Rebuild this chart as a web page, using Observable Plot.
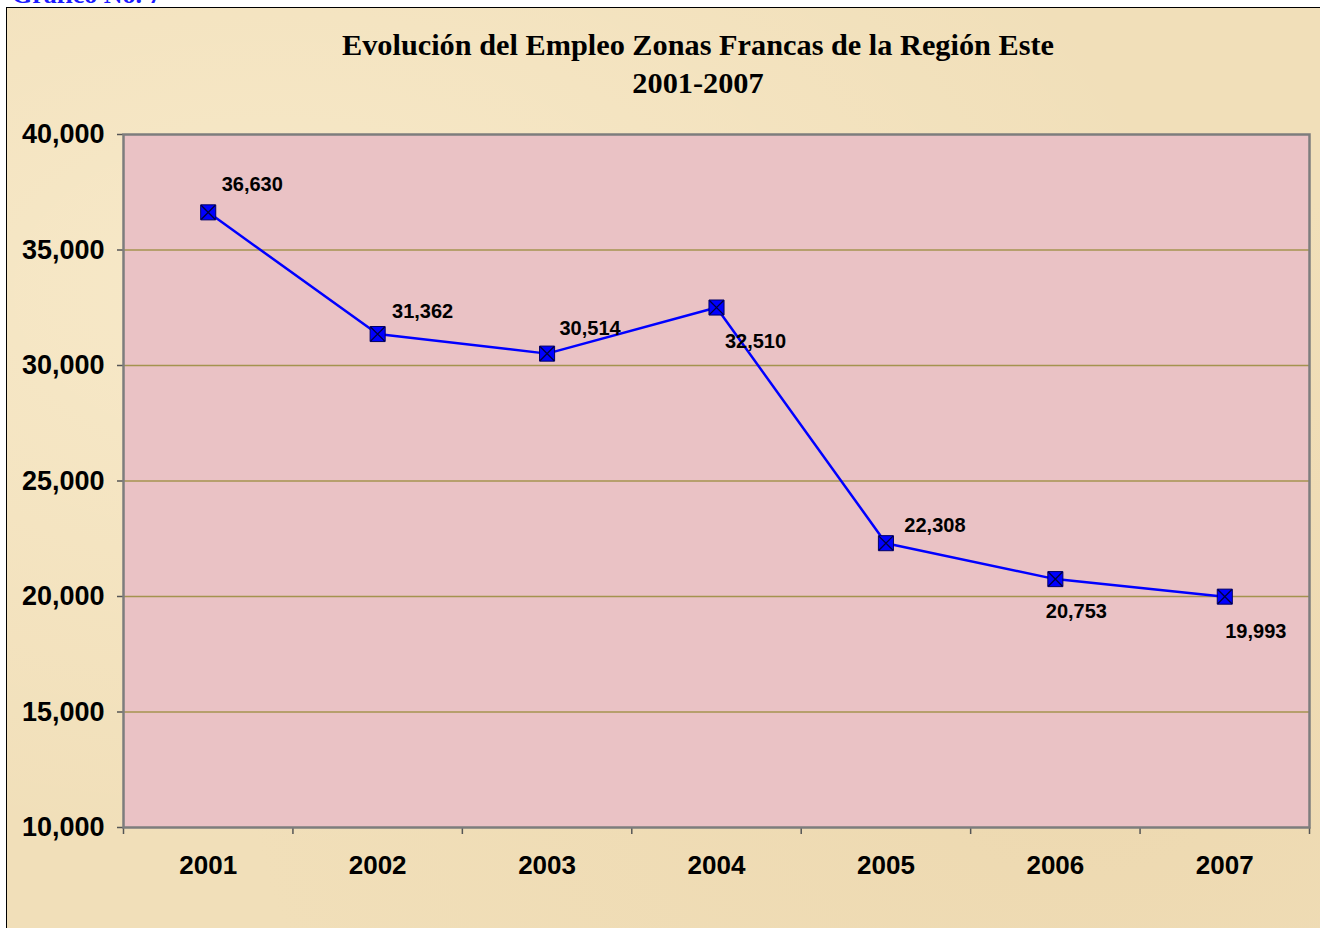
<!DOCTYPE html>
<html>
<head>
<meta charset="utf-8">
<script src="https://cdn.jsdelivr.net/npm/d3@7"></script>
<script src="https://cdn.jsdelivr.net/npm/@observablehq/plot@0.6"></script>
<style>
  html, body { margin: 0; padding: 0; background: #ffffff; overflow: hidden; }
  #page { position: relative; width: 1320px; height: 928px; overflow: hidden; background: #ffffff; }
  #caption { position: absolute; left: 12px; top: -20px; font: bold 26px "Liberation Serif", "Times New Roman", serif; color: #1a1aff; line-height: 30px; }
  #frame { position: absolute; left: 6px; top: 7px; width: 1340px; height: 940px; border: 1px solid #000;
    background:
      radial-gradient(ellipse at 20% 30%, rgba(255,245,220,0.45), rgba(255,245,220,0) 60%),
      radial-gradient(ellipse at 80% 80%, rgba(230,205,160,0.35), rgba(230,205,160,0) 55%),
      #f1dfb9; }
  #title { position: absolute; left: 0; top: 26px; width: 1396px; text-align: center;
    font: bold 30.3px "Liberation Serif", "Times New Roman", serif; color: #000; line-height: 38px; }
  #chart { position: absolute; left: 0; top: 110px; }
</style>
</head>
<body>
<div id="page">
  <div id="caption">Gráfico No. 7</div>
  <div id="frame"></div>
  <div id="title">Evolución del Empleo Zonas Francas de la Región Este<br>2001-2007</div>
  <div id="chart"></div>
</div>
<script>
// ---- data ----
const years = [2001, 2002, 2003, 2004, 2005, 2006, 2007];
const employment = [36630, 31362, 30514, 32510, 22308, 20753, 19993];
const yTicks = [10000, 15000, 20000, 25000, 30000, 35000, 40000];
const gridValues = [15000, 20000, 25000, 30000, 35000];

// label placement (styling, pixels relative to each point)
const labelDx = [44, 45, 43, 39, 49, 21, 31];
const labelDy = [-28, -22, -25, 34, -18, 32, 35];

const rows = years.map((year, i) => ({year, value: employment[i], dx: labelDx[i], dy: labelDy[i]}));
const boundaries = [years[0] - 0.5, ...years.map(y => y + 0.5)];
const fmt = d3.format(",");

const font = '"Liberation Sans", Arial, sans-serif';

const chart = Plot.plot({
  width: 1320,
  height: 818,
  marginTop: 24,
  marginBottom: 101,
  marginLeft: 123,
  marginRight: 11,
  style: {background: "transparent", fontFamily: font, overflow: "visible"},
  x: {type: "linear", domain: [years[0] - 0.5, years[years.length - 1] + 0.5]},
  y: {domain: [10000, 40000]},
  marks: [
    Plot.frame({fill: "#eac2c5", stroke: "none"}),
    Plot.ruleY(gridValues, {stroke: "#a4934f", strokeWidth: 1.5}),
    // x axis: boundary tick marks
    Plot.axisX({ticks: boundaries, tickSize: 7, tickFormat: () => "", label: null, stroke: "#555", strokeWidth: 1.5}),
    // x axis: year labels
    Plot.axisX({ticks: years, tickSize: 0, tickPadding: 28, tickFormat: d => String(d), label: null,
      fontSize: 26, fontWeight: "bold", fill: "#000"}),
    // y axis
    Plot.axisY({ticks: yTicks, tickSize: 6, tickPadding: 13, tickFormat: fmt, label: null,
      fontSize: 27, fontWeight: "bold", fill: "#000", stroke: "#555", strokeWidth: 1.5}),
    Plot.frame({stroke: "#7d7d7d", strokeWidth: 2.5}),
    Plot.line(rows, {x: "year", y: "value", stroke: "#0000ff", strokeWidth: 2.5}),
    Plot.dot(rows, {x: "year", y: "value", symbol: "square", r: 8.5, fill: "#0000ff", stroke: "#000066", strokeWidth: 1}),
    Plot.dot(rows, {x: "year", y: "value", symbol: "times", r: 6.5, stroke: "#000040", strokeWidth: 1.3}),
    ...rows.map(r => Plot.text([r], {x: "year", y: "value", text: d => fmt(d.value), dx: r.dx, dy: r.dy,
      fontSize: 20, fontWeight: "bold", fill: "#000"}))
  ]
});
document.getElementById("chart").appendChild(chart);
</script>
</body>
</html>
